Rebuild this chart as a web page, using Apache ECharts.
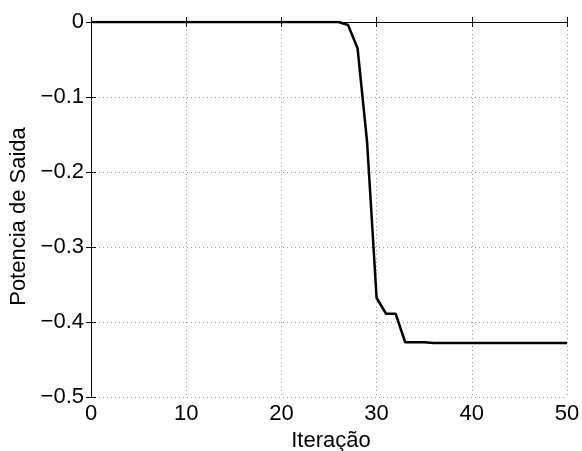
<!DOCTYPE html>
<html>
<head>
<meta charset="utf-8">
<script src="https://cdn.jsdelivr.net/npm/echarts@6/dist/echarts.min.js"></script>
<style>
  html, body { margin: 0; padding: 0; background: #fff; }
  #chart { width: 582px; height: 451px; }
</style>
</head>
<body>
<div id="chart"></div>
<script>
// Output power per iteration
const iterations = [0,1,2,3,4,5,6,7,8,9,10,11,12,13,14,15,16,17,18,19,20,21,22,23,24,25,26,27,28,29,30,31,32,33,34,35,36,37,38,39,40,41,42,43,44,45,46,47,48,49,50];
const potencia = [0,0,0,0,0,0,0,0,0,0,0,0,0,0,0,0,0,0,0,0,0,0,0,0,0,0,0,
  -0.004,-0.035,-0.16,-0.368,-0.389,-0.389,-0.427,-0.427,-0.427,-0.428,
  -0.428,-0.428,-0.428,-0.428,-0.428,-0.428,-0.428,-0.428,-0.428,-0.428,-0.428,-0.428,-0.428,-0.428];
const xTicks = [0, 10, 20, 30, 40, 50];
const yTicks = [-0.5, -0.4, -0.3, -0.2, -0.1, 0];

const FONT = 'Liberation Sans';
const fmtY = v => (v < 0 ? '\u2212' + String(Math.abs(Math.round(v * 10) / 10)) : String(v));

const chart = echarts.init(document.getElementById('chart'), null, { renderer: 'canvas' });

const axisLine = { show: true, lineStyle: { color: '#000', width: 1 } };
const tick = { show: true, inside: true, length: 5, lineStyle: { color: '#000', width: 1 } };
const grid = { show: true, lineStyle: { color: '#999', type: [1, 3], width: 1 } };
const lbl = { color: '#000', fontFamily: FONT, fontSize: 22 };

chart.setOption({
  animation: false,
  backgroundColor: '#fff',
  grid: { left: 91, right: 15, top: 22, bottom: 54, containLabel: false, outerBoundsMode: 'none' },
  xAxis: [
    {
      type: 'value', min: xTicks[0], max: xTicks[xTicks.length - 1], interval: 10,
      position: 'bottom',
      name: 'Iteração', nameLocation: 'middle', nameGap: 30,
      nameTextStyle: { color: '#000', fontFamily: FONT, fontSize: 22, padding: [0, 0, 0, 4] },
      axisLine, axisTick: tick, splitLine: grid,
      axisLabel: Object.assign({ margin: 6 }, lbl)
    },
    {
      type: 'value', min: xTicks[0], max: xTicks[xTicks.length - 1], interval: 10,
      position: 'top', axisLine, axisTick: tick, splitLine: { show: false },
      axisLabel: { show: false }
    }
  ],
  yAxis: [
    {
      type: 'value', min: yTicks[0], max: yTicks[yTicks.length - 1], interval: 0.1,
      position: 'left',
      name: 'Potencia de Saida', nameLocation: 'middle', nameGap: 60, nameRotate: 90,
      nameTextStyle: { color: '#000', fontFamily: FONT, fontSize: 22, padding: [0, 14, 0, 0] },
      axisLine, axisTick: tick, splitLine: grid,
      axisLabel: Object.assign({ margin: 7, formatter: fmtY }, lbl)
    },
    {
      type: 'value', min: yTicks[0], max: yTicks[yTicks.length - 1], interval: 0.1,
      position: 'right', axisLine, axisTick: tick, splitLine: { show: false },
      axisLabel: { show: false }
    }
  ],
  series: [{
    type: 'line',
    data: iterations.map((x, i) => [x, potencia[i]]),
    showSymbol: false,
    lineStyle: { color: '#000', width: 2.5 },
    xAxisIndex: 0, yAxisIndex: 0
  }]
});
</script>
</body>
</html>
